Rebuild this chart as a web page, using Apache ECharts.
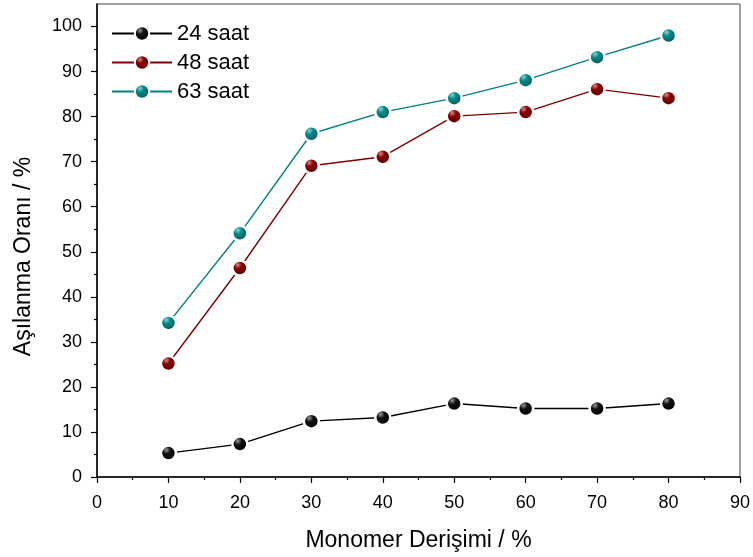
<!DOCTYPE html>
<html>
<head>
<meta charset="utf-8">
<script src="https://cdn.jsdelivr.net/npm/echarts@6/dist/echarts.min.js"></script>
<style>
  html, body { margin: 0; padding: 0; background: #fff; }
  #chart { width: 753px; height: 557px; }
</style>
</head>
<body>
<div id="chart"></div>
<script>
/* ---------- data ---------- */
const concentrations = [10, 20, 30, 40, 50, 60, 70, 80];
const s24 = [5.3, 7.3, 12.4, 13.2, 16.3, 15.2, 15.2, 16.3];
const s48 = [25.2, 46.4, 69.1, 71.1, 80.1, 81.0, 86.1, 84.1];
const s63 = [34.2, 54.1, 76.2, 81.0, 84.1, 88.1, 93.2, 98.0];
const yMajor = [0, 10, 20, 30, 40, 50, 60, 70, 80, 90, 100];
const yMinor = [5, 15, 25, 35, 45, 55, 65, 75, 85, 95];

const FONT = "Liberation Sans, Arial, sans-serif";

/* glossy ball */
function ball(light, base, dark) {
  return {
    type: "radial", x: 0.38, y: 0.32, r: 0.75,
    colorStops: [
      { offset: 0, color: light },
      { offset: 0.3, color: base },
      { offset: 1, color: dark },
    ],
  };
}

function mkSeries(name, vals, lineColor, fill) {
  return {
    name,
    type: "line",
    data: concentrations.map((c, i) => [c, vals[i]]),
    symbol: "circle",
    symbolSize: 15,
    lineStyle: { color: lineColor, width: 1.4 },
    itemStyle: { color: fill, borderColor: "#fff", borderWidth: 2.5 },
    emphasis: { disabled: true },
    z: 3,
  };
}

const chart = echarts.init(document.getElementById("chart"), null, { renderer: "canvas" });
chart.setOption({
  animation: false,
  textStyle: { fontFamily: FONT },
  grid: { left: 97, right: 11, top: 4, bottom: 79, show: true, borderColor: "#444", borderWidth: 1 },
  legend: {
    orient: "vertical",
    left: 111,
    top: 22,
    padding: 0,
    itemWidth: 60,
    itemHeight: 18,
    itemGap: 6,
    textStyle: { fontSize: 22, color: "#000", fontFamily: FONT, lineHeight: 23 },
    data: ["24 saat", "48 saat", "63 saat"],
  },
  xAxis: {
    type: "value",
    min: 0, max: 90, interval: 10,
    name: "Monomer Derişimi / %",
    nameLocation: "middle",
    nameGap: 52,
    nameTextStyle: { fontSize: 23, color: "#000", fontFamily: FONT },
    axisLine: { onZero: false, lineStyle: { color: "#000", width: 1.5 } },
    axisTick: { inside: false, length: 6, lineStyle: { color: "#000", width: 1.2 } },
    minorTick: { show: true, splitNumber: 2, length: 3, lineStyle: { color: "#000", width: 1.2 } },
    axisLabel: { fontSize: 18, color: "#000", margin: 17, fontFamily: FONT },
    splitLine: { show: false },
    minorSplitLine: { show: false },
  },
  yAxis: [
    {
      type: "value",
      min: 0, max: 105, interval: 10,
      name: "Aşılanma Oranı / %",
      nameLocation: "middle",
      nameGap: 62,
      nameRotate: 90,
      nameTextStyle: { fontSize: 23, color: "#000", fontFamily: FONT, padding: [0, 32, 0, 0] },
      axisLine: { onZero: false, lineStyle: { color: "#000", width: 1.5 } },
      axisTick: { inside: false, length: 6, customValues: yMajor, lineStyle: { color: "#000", width: 1.2 } },
      axisLabel: { fontSize: 18, color: "#000", margin: 15, customValues: yMajor, fontFamily: FONT },
      splitLine: { show: false },
    },
    {
      type: "value",
      min: 0, max: 105, interval: 10,
      position: "left",
      axisLine: { show: false },
      axisTick: { inside: false, length: 3, customValues: yMinor, lineStyle: { color: "#000", width: 1.2 } },
      axisLabel: { show: false },
      splitLine: { show: false },
    },
  ],
  series: [
    mkSeries("24 saat", s24, "#000", ball("#9a9a9a", "#111", "#000")),
    mkSeries("48 saat", s48, "#800000", ball("#d08a8a", "#8a0000", "#4a0000")),
    mkSeries("63 saat", s63, "#008080", ball("#8fd0d0", "#008a8a", "#004848")),
  ],
});
</script>
</body>
</html>
